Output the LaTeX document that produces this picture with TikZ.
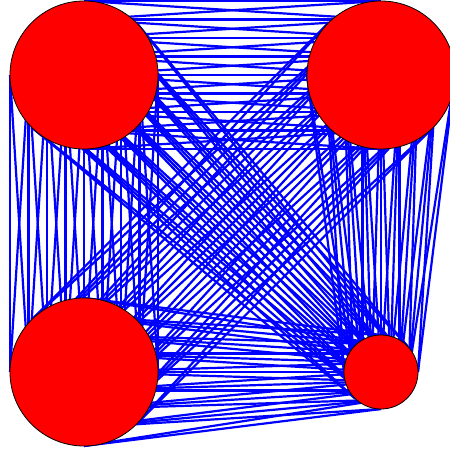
\documentclass[tikz,border=0pt]{standalone}
\begin{document}
\begin{tikzpicture}[x=1pt,y=-1pt,
  wire/.style={draw=blue, line width=2.2pt},
  ball/.style={circle, draw=black, fill=red, line width=0.8pt, inner sep=0pt}]
\useasboundingbox (0,0) rectangle (450,450);
\clip (0,0) rectangle (450,450);
% sample points of each circle along four diameters
\foreach \n/\cx/\cy/\r in {TL/84/75/74, TR/381/75/74, BL/84/372/74, BR/381/372/37} {
  \foreach \k in {0,...,8} {
    \coordinate (\n-h\k) at ({\cx+(\k-4)*\r/4},{\cy});
    \coordinate (\n-v\k) at ({\cx},{\cy+(\k-4)*\r/4});
    \coordinate (\n-a\k) at ({\cx+(\k-4)*\r/4*0.7071},{\cy-(\k-4)*\r/4*0.7071});
    \coordinate (\n-d\k) at ({\cx+(\k-4)*\r/4*0.7071},{\cy+(\k-4)*\r/4*0.7071});
  }
}
% connectors
\foreach \A/\B/\t in {TL/BL/h, TR/BR/h, TL/TR/v, BL/BR/v, TL/BR/a, TR/BL/d} {
  \foreach \k in {0,...,8} {
    \draw[wire] (\A-\t\k) -- (\B-\t\k);
  }
  \foreach \k [evaluate=\k as \kk using int(\k+1)] in {0,...,7} {
    \draw[wire] (\A-\t\k) -- (\B-\t\kk);
    \draw[wire] (\A-\t\kk) -- (\B-\t\k);
  }
}
% circles
\node[ball, minimum size=148pt] (tl) at (84,75) {};
\node[ball, minimum size=148pt] (tr) at (381,75) {};
\node[ball, minimum size=148pt] (bl) at (84,372) {};
\node[ball, minimum size=74pt] (br) at (381,372) {};
\end{tikzpicture}
\end{document}
